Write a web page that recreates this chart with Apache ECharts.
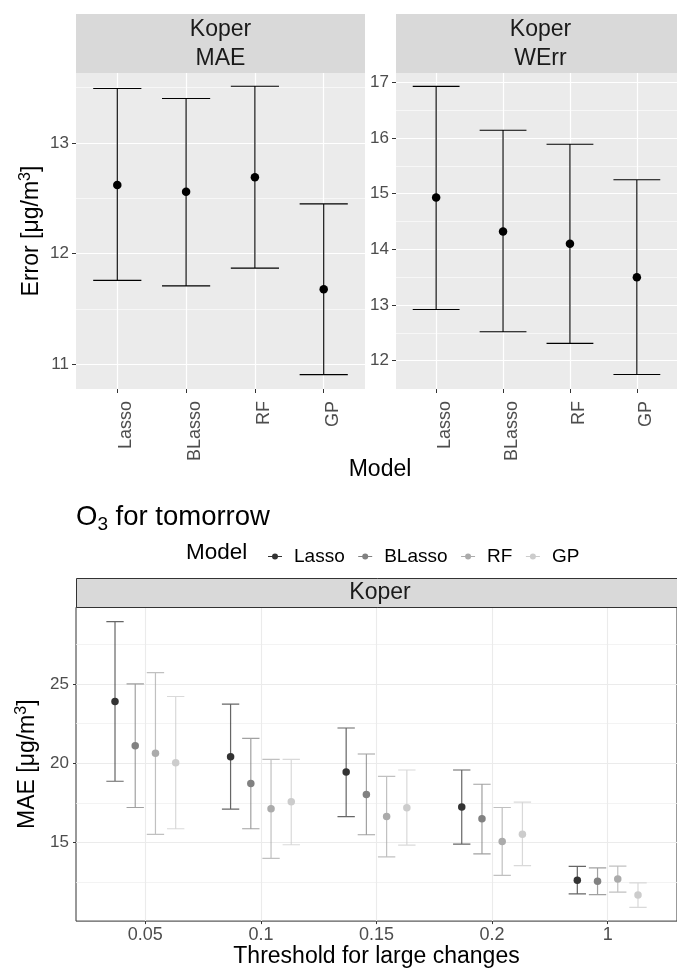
<!DOCTYPE html>
<html>
<head>
<meta charset="utf-8">
<script src="https://cdn.jsdelivr.net/npm/echarts@6/dist/echarts.min.js"></script>
<style>
html,body{margin:0;padding:0;background:#fff;}
#chart{width:677px;height:969px;}
</style>
</head>
<body>
<div id="chart"></div>
<script>
// ---------- data ----------
const models = ['Lasso', 'BLasso', 'RF', 'GP'];
// top-left panel: Koper, MAE
const maeMean = [12.62, 12.56, 12.69, 11.68];
const maeLow  = [11.76, 11.71, 11.87, 10.91];
const maeHigh = [13.49, 13.40, 13.51, 12.45];
// top-right panel: Koper, WErr
const werrMean = [14.93, 14.32, 14.10, 13.50];
const werrLow  = [12.92, 12.52, 12.31, 11.75];
const werrHigh = [16.93, 16.14, 15.89, 15.25];
// bottom panel: O3 for tomorrow, MAE by threshold
const thresholds = ['0.05', '0.1', '0.15', '0.2', '1'];
const lassoMean  = [23.91, 20.42, 19.46, 17.25, 12.62];
const lassoLow   = [18.87, 17.11, 16.64, 14.90, 11.76];
const lassoHigh  = [28.94, 23.74, 22.23, 19.58, 13.49];
const blassoMean = [21.11, 18.72, 18.03, 16.50, 12.56];
const blassoLow  = [17.21, 15.87, 15.49, 14.29, 11.71];
const blassoHigh = [25.02, 21.58, 20.59, 18.68, 13.40];
const rfMean     = [20.63, 17.13, 16.64, 15.07, 12.69];
const rfLow      = [15.51, 14.00, 14.10, 12.93, 11.87];
const rfHigh     = [25.73, 20.25, 19.18, 17.21, 13.51];
const gpMean     = [20.04, 17.57, 17.19, 15.53, 11.68];
const gpLow      = [15.87, 14.86, 14.84, 13.54, 10.91];
const gpHigh     = [24.22, 20.25, 19.58, 17.55, 12.45];
// tick values
const maeTicks = [11, 12, 13];
const maeMinor = [11.5, 12.5, 13.5];
const werrTicks = [12, 13, 14, 15, 16, 17];
const werrMinor = [12.5, 13.5, 14.5, 15.5, 16.5];
const botTicks = [15, 20, 25];
const botMinor = [12.5, 17.5, 22.5, 27.5];

// ---------- styling ----------
const FONT = 'Liberation Sans, Arial, Helvetica, sans-serif';
const greyCols = ['#333333', '#818181', '#ababab', '#cccccc'];
const bottomSets = [
  [lassoMean, lassoLow, lassoHigh],
  [blassoMean, blassoLow, blassoHigh],
  [rfMean, rfLow, rfHigh],
  [gpMean, gpLow, gpHigh]
];
const dodge = 0.175;

function errRender(capW, color, opacity, lw) {
  return function (params, api) {
    const x = api.value(0), lo = api.value(1), hi = api.value(2);
    const pLo = api.coord([x, lo]);
    const pHi = api.coord([x, hi]);
    const half = api.size([capW, 0])[0] / 2;
    const d = 'M' + (pHi[0] - half) + ',' + pHi[1] + 'L' + (pHi[0] + half) + ',' + pHi[1] +
              'M' + pHi[0] + ',' + pHi[1] + 'L' + pLo[0] + ',' + pLo[1] +
              'M' + (pLo[0] - half) + ',' + pLo[1] + 'L' + (pLo[0] + half) + ',' + pLo[1];
    return { type: 'path', shape: { pathData: d },
      style: { stroke: color, lineWidth: lw, fill: null, opacity: opacity } };
  };
}

function gridLines(gi, hMajor, hMinor, vMajor, majCol, minCol, majW, minW) {
  const out = [];
  const ml = (data, col, w) => ({
    type: 'line', xAxisIndex: gi, yAxisIndex: gi, data: [], z: 1, silent: true,
    markLine: { silent: true, z: 1, symbol: ['none', 'none'], label: { show: false },
      animation: false, emphasis: { disabled: true },
      lineStyle: { color: col, width: w, type: 'solid' }, data: data }
  });
  out.push(ml(hMinor.map(v => ({ yAxis: v })), minCol, minW));
  out.push(ml(hMajor.map(v => ({ yAxis: v })), majCol, majW));
  out.push(ml(vMajor.map(v => ({ xAxis: v })), majCol, majW));
  return out;
}

const series = [];
const catPos = models.map((m, i) => i + 1);
const thrPos = thresholds.map((t, i) => i + 1);

// gridlines
series.push(...gridLines(0, maeTicks, maeMinor, catPos, '#ffffff', '#ffffff', 1.2, 0.6));
series.push(...gridLines(1, werrTicks, werrMinor, catPos, '#ffffff', '#ffffff', 1.2, 0.6));
series.push(...gridLines(2, botTicks, botMinor, thrPos, '#ebebeb', '#f0f0f0', 1.1, 0.8));

// top panels
[[maeMean, maeLow, maeHigh], [werrMean, werrLow, werrHigh]].forEach((set, gi) => {
  series.push({
    type: 'custom', name: gi === 0 ? 'MAE err' : 'WErr err', xAxisIndex: gi, yAxisIndex: gi, z: 6,
    renderItem: errRender(0.7, '#000000', 1, 1.1), encode: { x: 0, y: [1, 2] },
    data: models.map((m, i) => [i + 1, set[1][i], set[2][i]]), silent: true
  });
  series.push({
    type: 'scatter', name: gi === 0 ? 'MAE mean' : 'WErr mean', xAxisIndex: gi, yAxisIndex: gi, z: 7,
    symbolSize: 8.5, itemStyle: { color: '#000000', opacity: 1 }, silent: true,
    data: models.map((m, i) => [i + 1, set[0][i]])
  });
});

// bottom panel
models.forEach((m, j) => {
  const set = bottomSets[j];
  series.push({
    type: 'custom', name: m + ' err', xAxisIndex: 2, yAxisIndex: 2, z: 6,
    renderItem: errRender(0.15, greyCols[j], 0.75, 1.2), encode: { x: 0, y: [1, 2] },
    data: thresholds.map((t, i) => [i + 1 + (j - 1.5) * dodge, set[1][i], set[2][i]]), silent: true
  });
});
models.forEach((m, j) => {
  const set = bottomSets[j];
  series.push({
    type: 'scatter', name: m, xAxisIndex: 2, yAxisIndex: 2, z: 7,
    symbolSize: 7.5, itemStyle: { color: greyCols[j], opacity: 1 }, silent: true,
    data: thresholds.map((t, i) => [i + 1 + (j - 1.5) * dodge, set[0][i]])
  });
});

const tickLab = { color: '#4d4d4d', fontFamily: FONT, fontSize: 17 };
const unitRich = {
  a: { fontFamily: FONT, fontSize: 23, lineHeight: 28, color: '#000' },
  s: { fontFamily: FONT, fontSize: 16, lineHeight: 16, verticalAlign: 'top', color: '#000' }
};

function topX(gi) {
  return {
    type: 'value', gridIndex: gi, min: 0.4, max: 4.6,
    axisLine: { show: false }, splitLine: { show: false },
    axisTick: { show: true, length: 4, customValues: catPos, lineStyle: { color: '#333333', width: 1 } },
    axisLabel: Object.assign({}, tickLab, { fontSize: 18, customValues: catPos, rotate: 90, margin: 12,
      verticalAlign: 'top', formatter: v => models[Math.round(v) - 1] || '' })
  };
}
function topY(gi, min, max, ticks, name) {
  return {
    type: 'value', gridIndex: gi, min: min, max: max,
    axisLine: { show: false }, splitLine: { show: false },
    axisTick: { show: true, length: 4, customValues: ticks, lineStyle: { color: '#333333', width: 1 } },
    axisLabel: Object.assign({}, tickLab, { customValues: ticks, margin: 7, formatter: v => String(v) }),
    name: name, nameLocation: 'middle', nameRotate: 90, nameGap: 30,
    nameTextStyle: { color: '#000', fontFamily: FONT, fontSize: 23, rich: unitRich }
  };
}

const option = {
  animation: false,
  backgroundColor: '#ffffff',
  textStyle: { fontFamily: FONT },
  title: {
    left: 71, top: 495,
    text: '{a|O}{s|3}{a| for tomorrow}',
    textStyle: { fontWeight: 'normal', rich: {
      a: { fontFamily: FONT, fontSize: 27.5, lineHeight: 34, color: '#000', fontWeight: 'normal' },
      s: { fontFamily: FONT, fontSize: 19, lineHeight: 19, verticalAlign: 'bottom', color: '#000', fontWeight: 'normal' }
    } }
  },
  legend: {
    data: models, left: 263, top: 542, itemGap: 13.5, itemWidth: 14, itemHeight: 6,
    icon: 'path://M0,2.5L14,2.5L14,3.5L0,3.5Z M10,3A3,3 0 1,1 4,3A3,3 0 1,1 10,3Z',
    textStyle: { fontFamily: FONT, fontSize: 19, color: '#000', padding: [0, 0, 0, 7] },
    selectedMode: false
  },
  grid: [
    { left: 76, top: 73, width: 289, height: 316, show: true, backgroundColor: '#ebebeb', borderWidth: 0 },
    { left: 396, top: 73, width: 289, height: 316, show: true, backgroundColor: '#ebebeb', borderWidth: 0 },
    { left: 76, top: 607.3, width: 608, height: 314.4, show: true, backgroundColor: '#ffffff', borderColor: '#333333', borderWidth: 1 }
  ],
  xAxis: [
    topX(0), topX(1),
    {
      type: 'value', gridIndex: 2, min: 0.4, max: 5.6,
      axisLine: { show: false }, splitLine: { show: false },
      axisTick: { show: true, length: 3, customValues: thrPos, lineStyle: { color: '#333333', width: 1 } },
      axisLabel: Object.assign({}, tickLab, { fontSize: 18, customValues: thrPos, margin: 5,
        formatter: v => thresholds[Math.round(v) - 1] || '' }),
      name: 'Threshold for large changes', nameLocation: 'middle', nameGap: 15,
      nameTextStyle: { color: '#000', fontFamily: FONT, fontSize: 23, verticalAlign: 'top' }
    }
  ],
  yAxis: [
    topY(0, 10.78, 13.63, maeTicks, '{a|Error [\u03bcg/m}{s|3}{a|]}'),
    topY(1, 11.49, 17.17, werrTicks, ''),
    topY(2, 10.04, 29.85, botTicks, '{a|MAE [\u03bcg/m}{s|3}{a|]}')
  ],
  graphic: [
    { type: 'rect', shape: { x: 76, y: 14, width: 289, height: 59 }, style: { fill: '#d9d9d9' }, z: 10 },
    { type: 'rect', shape: { x: 396, y: 14, width: 289, height: 59 }, style: { fill: '#d9d9d9' }, z: 10 },
    { type: 'rect', shape: { x: 76.5, y: 578.5, width: 608, height: 29 }, style: { fill: '#d9d9d9', stroke: '#333333', lineWidth: 1 }, z: 10 },
    { type: 'text', x: 220.5, y: 44, z: 11, style: { text: 'Koper\nMAE', fontFamily: FONT, fontSize: 23, lineHeight: 29, fill: '#1a1a1a', align: 'center', verticalAlign: 'middle' } },
    { type: 'text', x: 540.5, y: 44, z: 11, style: { text: 'Koper\nWErr', fontFamily: FONT, fontSize: 23, lineHeight: 29, fill: '#1a1a1a', align: 'center', verticalAlign: 'middle' } },
    { type: 'text', x: 380, y: 593, z: 11, style: { text: 'Koper', fontFamily: FONT, fontSize: 23, fill: '#1a1a1a', align: 'center', verticalAlign: 'middle' } },
    { type: 'text', x: 380, y: 470, z: 11, style: { text: 'Model', fontFamily: FONT, fontSize: 23, fill: '#000', align: 'center', verticalAlign: 'middle' } },
    { type: 'text', x: 186, y: 553, z: 11, style: { text: 'Model', fontFamily: FONT, fontSize: 22.5, fill: '#000', align: 'left', verticalAlign: 'middle' } }
  ],
  series: series
};
option.yAxis[2].nameGap = 33;
option.yAxis[2].axisTick.length = 3;

const chart = echarts.init(document.getElementById('chart'), null, { renderer: 'canvas' });
chart.setOption(option);
</script>
</body>
</html>
